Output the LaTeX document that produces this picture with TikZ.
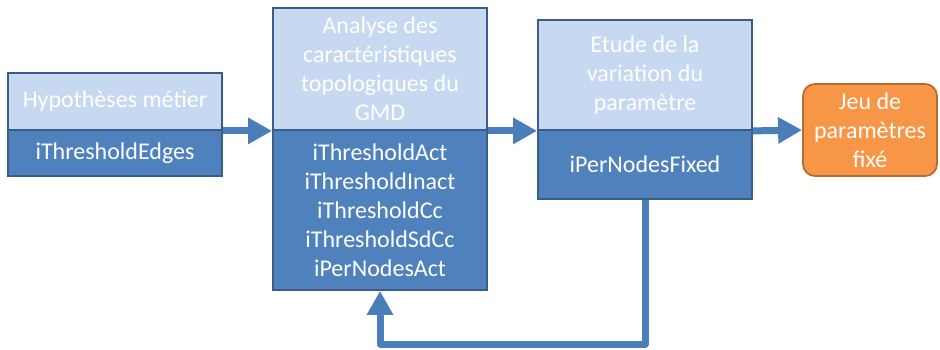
\documentclass[tikz,border=0pt]{standalone}
\usepackage{fontspec}
\setmainfont{Carlito}
\usetikzlibrary{arrows.meta}
\definecolor{lightb}{HTML}{C6D9F1}
\definecolor{darkb}{HTML}{4F81BD}
\definecolor{edgeb}{HTML}{385D8A}
\definecolor{arrb}{HTML}{4A7EBB}
\definecolor{orangef}{HTML}{F79646}
\definecolor{orangee}{HTML}{B66D31}
\begin{document}
\begin{tikzpicture}[x=1pt,y=-1pt,
  box/.style={draw=edgeb, line width=1.8pt, inner sep=0pt, align=center, text=white,
    font=\fontsize{24}{29}\selectfont, minimum width=214pt},
  topbox/.style={box, fill=lightb},
  botbox/.style={box, fill=darkb},
  endbox/.style={draw=orangee, fill=orangef, line width=1.8pt, rounded corners=12pt, inner sep=0pt,
    align=center, text=white, font=\fontsize{24}{29}\selectfont, minimum width=134pt, minimum height=92pt},
  flow/.style={draw=arrb, line width=7pt, -{Triangle[length=24pt,width=25pt]}},
  loopflow/.style={flow, line join=round}]
\useasboundingbox (0,0) rectangle (940,349);
% box 1
\node[topbox, minimum height=57pt] (b1t) at (115,101.5) {Hypothèses métier};
\node[botbox, minimum height=46pt] (b1b) at (115,153) {iThresholdEdges};
% box 2
\node[topbox, minimum height=122pt] (b2t) at (380,69) {Analyse des\\caractéristiques\\topologiques du\\GMD};
\node[botbox, minimum height=160pt] (b2b) at (380,210) {iThresholdAct\\iThresholdInact\\iThresholdCc\\iThresholdSdCc\\iPerNodesAct};
% box 3
\node[topbox, minimum height=110pt] (b3t) at (645,75) {Etude de la\\variation du\\paramètre};
\node[botbox, minimum height=69pt] (b3b) at (645,164.5) {iPerNodesFixed};
% box 4
\node[endbox] (b4) at (870,130) {Jeu de\\paramètres\\fixé};
% connectors
\draw[flow] (b1t.south east) -- (b2t.south west);
\draw[flow] (b2t.south east) -- (b3t.south west);
\draw[flow] (b3t.south east) -- (b4.west);
\coordinate (fbl) at (380,344);
\draw[loopflow] (b3b.south) |- (fbl) -- (b2b.south);
\end{tikzpicture}
\end{document}
